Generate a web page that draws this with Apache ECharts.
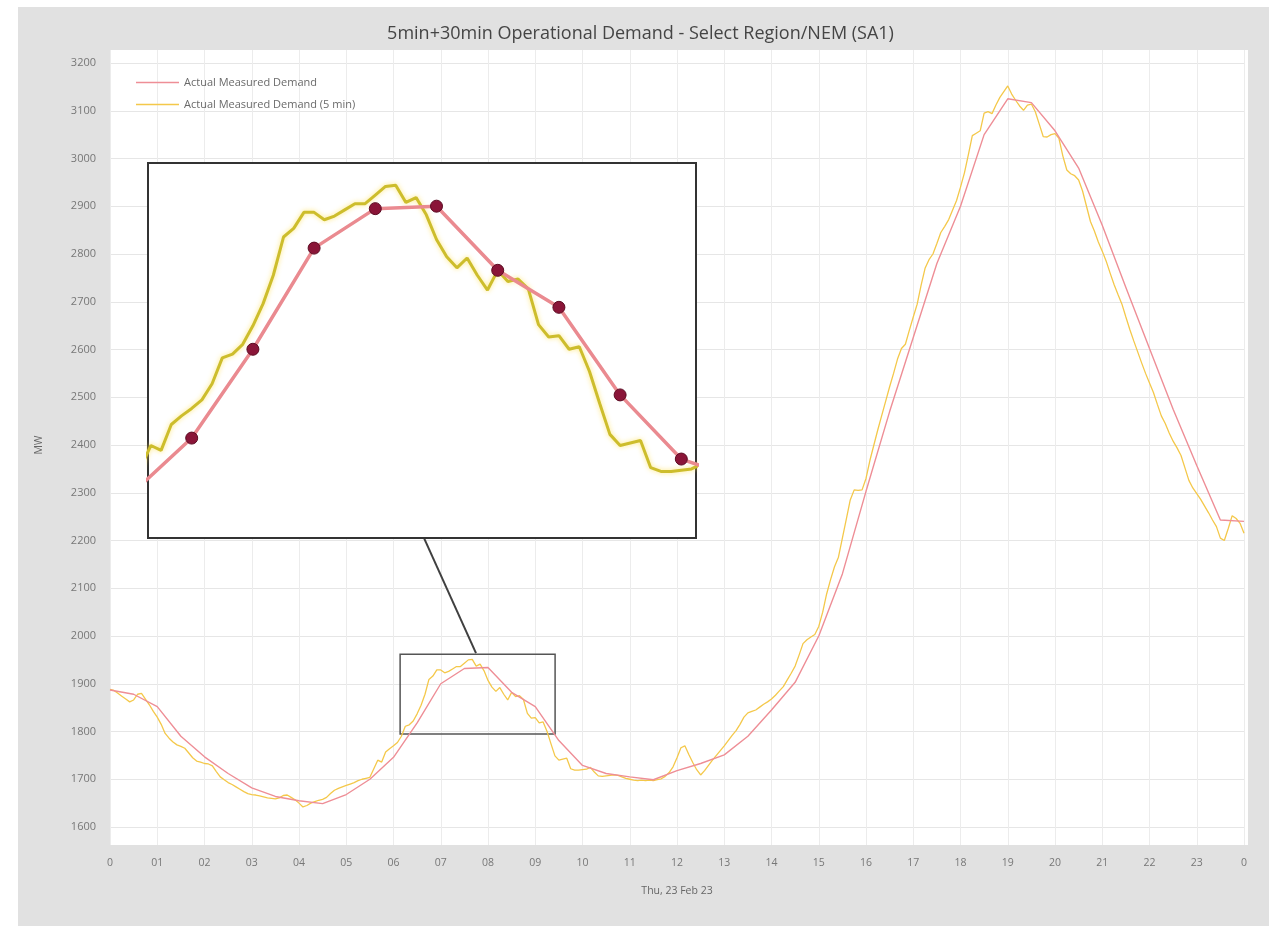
<!DOCTYPE html>
<html><head><meta charset="utf-8">
<script src="https://cdn.jsdelivr.net/npm/echarts@6/dist/echarts.min.js"></script>
<style>
html,body{margin:0;padding:0;background:#fff;width:1281px;height:926px;overflow:hidden}
#frame{position:absolute;left:18px;top:7px;width:1251px;height:919px;background:#e1e1e1}
#plotbg{position:absolute;left:110px;top:50px;width:1138px;height:795px;background:#fff}
#chart{position:absolute;left:0;top:0;width:1281px;height:926px}
</style></head><body>
<div id="frame"></div><div id="plotbg"></div><div id="chart"></div>
<script>
// ---- data ----
const hourLabels = ['0','01','02','03','04','05','06','07','08','09','10','11','12','13','14','15','16','17','18','19','20','21','22','23','0'];
const seriesNames = ['Actual Measured Demand','Actual Measured Demand (5 min)'];
// 30-minute values, 00:00 .. 24:00
const thirtyMin = [1887,1878,1852,1790,1747,1712,1682,1664,1655,1649,1668,1700,
  1746,1818,1900,1932,1934,1882,1852,1781,1729,1712,1705,1699,
  1718,1733,1751,1790,1845,1903,2000,2130,2303,2470,2625,2780,
  2900,3050,3125,3117,3058,2980,2860,2730,2602,2475,2357,2243,2240];
// 5-minute values, 00:00 .. 24:00
const fiveMin = [
  1888,1886,1880,1874,1868,1862,1866,1878,1880,1868,1856,1842,
  1830,1815,1796,1786,1778,1772,1769,1765,1755,1745,1738,1736,
  1733,1732,1728,1716,1705,1699,1693,1689,1684,1679,1674,1670,
  1668,1667,1665,1663,1661,1660,1659,1661,1666,1667,1662,1657,
  1650,1642,1645,1650,1653,1656,1658,1662,1670,1677,1681,1684,
  1687,1690,1693,1697,1700,1702,1704,1722,1740,1736,1757,1764,
  1770,1777,1790,1811,1814,1822,1837,1855,1878,1909,1916,1929,
  1929,1923,1926,1931,1936,1936,1943,1950,1951,1937,1941,1927,
  1907,1893,1884,1892,1878,1866,1882,1873,1875,1867,1838,1828,
  1829,1818,1820,1800,1774,1749,1740,1742,1744,1722,1719,1719,
  1720,1721,1725,1715,1707,1706,1707,1708,1709,1708,1705,1702,
  1700,1698,1697,1698,1697,1698,1697,1699,1701,1706,1714,1726,
  1745,1766,1770,1752,1735,1720,1709,1718,1729,1740,1750,1760,
  1770,1781,1792,1802,1815,1830,1839,1842,1845,1851,1857,1862,
  1868,1876,1885,1894,1908,1922,1937,1960,1984,1992,1998,2003,
  2020,2050,2088,2118,2145,2165,2205,2245,2285,2306,2305,2306,
  2330,2368,2400,2432,2462,2492,2522,2550,2580,2602,2611,2640,
  2668,2695,2735,2770,2788,2800,2822,2845,2858,2872,2892,2912,
  2940,2970,3008,3048,3053,3058,3095,3098,3094,3112,3128,3140,
  3152,3135,3122,3110,3101,3112,3114,3098,3072,3046,3045,3050,
  3052,3042,3005,2976,2968,2964,2955,2932,2900,2868,2848,2825,
  2806,2785,2760,2736,2715,2695,2668,2642,2618,2595,2572,2550,
  2530,2510,2485,2461,2445,2425,2408,2394,2378,2352,2326,2310,
  2298,2286,2272,2258,2243,2229,2205,2200,2225,2252,2246,2236,
  2215];
// inset (magnified view) ranges and annotation anchors, in data units
const insetX = [5.643, 10.12];
const insetY = [1665, 1969];
const insetHourLines = [6,7,8,9,10];
const insetValueLines = [1700,1800,1900];
const zoomBox = [[6.14,1962],[9.42,1795]];
const arrowFromTo = [[6.637,2207],[7.746,1964]];

// ---- build ----
const thirtyPts = thirtyMin.map((v,i)=>[i*0.5, v]);
const fivePts = fiveMin.map((v,i)=>[i/12, v]);
const FONT = "'Open Sans', sans-serif";

const chart = echarts.init(document.getElementById('chart'), null, {renderer:'canvas'});
chart.setOption({
  animation:false,
  backgroundColor:'transparent',
  title:{
    text:'5min+30min Operational Demand - Select Region/NEM (SA1)',
    left:'center', top:20,
    textStyle:{fontFamily:FONT, fontSize:18, fontWeight:'normal', color:'#454545'}
  },
  legend:{
    data:seriesNames, orient:'vertical', left:131, top:72,
    icon:'rect', itemWidth:43, itemHeight:1.6, itemGap:11,
    textStyle:{fontFamily:FONT, fontSize:11, color:'#6a6a6a'}
  },
  grid:[
    {left:110, right:37, top:63, bottom:99},
    {left:148, top:163, width:548, height:375, show:true, backgroundColor:'#ffffff',
     borderColor:'#333333', borderWidth:2, z:10}
  ],
  xAxis:[
    {gridIndex:0, type:'value', min:0, max:24, interval:1,
     name:'Thu, 23 Feb 23', nameLocation:'middle', nameGap:59,
     nameTextStyle:{fontFamily:FONT, fontSize:10.5, color:'#666'},
     axisLine:{show:false},
     axisTick:{show:true, length:18, lineStyle:{color:'#ececec'}},
     axisLabel:{margin:31, fontFamily:FONT, fontSize:10.5, color:'#777',
       formatter:(v)=>hourLabels[Math.round(v)]},
     splitLine:{show:true, lineStyle:{color:'#ececec', width:1}}},
    {gridIndex:1, type:'value', min:insetX[0], max:insetX[1], show:false, z:10},
    {gridIndex:0, type:'value', min:0, max:24, interval:1, position:'top',
     axisLine:{show:false}, axisLabel:{show:false}, splitLine:{show:false},
     axisTick:{show:true, length:13, lineStyle:{color:'#ececec'}}}
  ],
  yAxis:[
    {gridIndex:0, type:'value', min:1600, max:3200, interval:100,
     name:'MW', nameLocation:'middle', nameGap:65,
     nameTextStyle:{fontFamily:FONT, fontSize:10.5, color:'#666'},
     axisLine:{show:false}, axisTick:{show:false},
     axisLabel:{margin:14, fontFamily:FONT, fontSize:11, color:'#777', formatter:(v)=>String(v)},
     splitLine:{show:true, lineStyle:{color:'#e6e6e6', width:1}}},
    {gridIndex:1, type:'value', min:insetY[0], max:insetY[1], show:false, z:10}
  ],
  series:[
    {name:seriesNames[1], type:'line', xAxisIndex:0, yAxisIndex:0, data:fivePts,
     symbol:'none', z:2, lineStyle:{color:'#f4c84a', width:1.3}, itemStyle:{color:'#f4c84a'}},
    {name:seriesNames[0], type:'line', xAxisIndex:0, yAxisIndex:0, data:thirtyPts,
     symbol:'none', z:3, lineStyle:{color:'#ee8e96', width:1.4}, itemStyle:{color:'#ee8e96'},
     markArea:{silent:true, itemStyle:{color:'rgba(0,0,0,0)', borderColor:'#555', borderWidth:1.5},
       data:[[{coord:zoomBox[0]},{coord:zoomBox[1]}]]},
     markLine:{silent:true, symbol:['none','triangle'], symbolSize:[0,16],
       label:{show:false}, lineStyle:{color:'#404040', width:2, type:'solid'},
       data:[[{coord:arrowFromTo[0]},{coord:arrowFromTo[1]}]]}},
    // inset gridlines
    {name:'insetGrid', type:'line', xAxisIndex:1, yAxisIndex:1, data:[[8,1800]],
     symbol:'none', lineStyle:{opacity:0}, z:11,
     markLine:{silent:true, symbol:['none','none'], label:{show:false},
       data:[
         ...insetHourLines.map(h=>({xAxis:h, lineStyle:{color:'#b4b4b4', width:1.3, type:[6,5]}})),
         ...insetValueLines.map(v=>({yAxis:v, lineStyle:{color:'#c4c4c4', width:1.8, type:'solid'}}))
       ]}},
    {name:'inset5', type:'line', xAxisIndex:1, yAxisIndex:1, data:fivePts,
     symbol:'none', z:12,
     lineStyle:{color:'#cdbd2c', width:3, shadowColor:'rgba(255,225,90,0.8)', shadowBlur:5}},
    {name:'inset30', type:'line', xAxisIndex:1, yAxisIndex:1, data:thirtyPts,
     symbol:'circle', symbolSize:12, showSymbol:true, showAllSymbol:true, z:13,
     lineStyle:{color:'#ea8a90', width:3.5},
     itemStyle:{color:'#8a1538', borderColor:'#5c0b22', borderWidth:1}}
  ]
});
</script>
</body></html>
